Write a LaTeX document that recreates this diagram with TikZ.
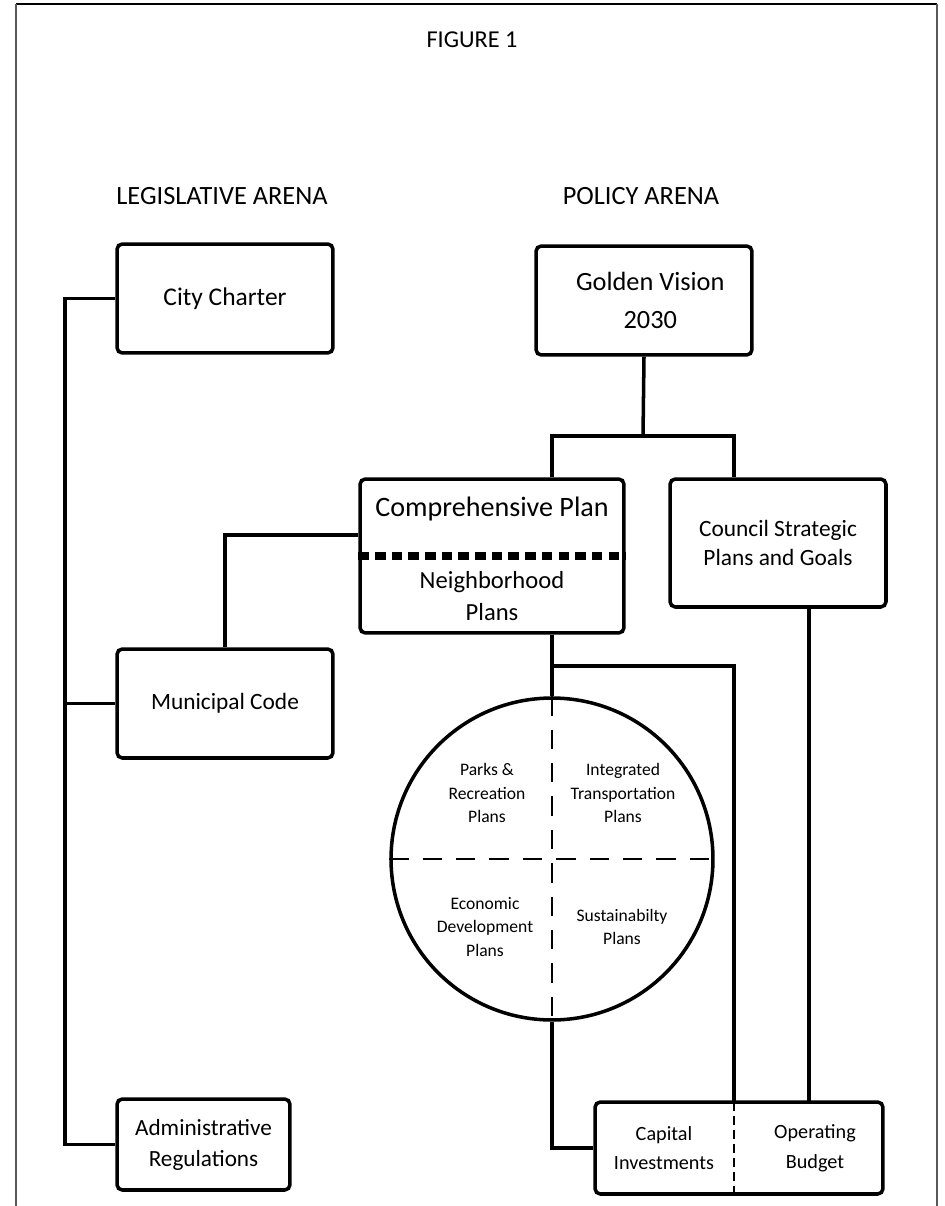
\documentclass[tikz,border=0pt]{standalone}
\usepackage{fontspec}
\setmainfont{Carlito}
\tikzset{
  box/.style={draw, line width=2pt, rounded corners=3pt, align=center, inner sep=0pt},
  link/.style={line width=2pt},
  quarter/.style={align=center, font=\fontsize{10}{13.6}\selectfont},
  split/.style={line width=1.4pt, dash pattern=on 11pt off 8pt}
}
\begin{document}
\begin{tikzpicture}[x=0.02cm, y=-0.02cm]
\useasboundingbox (0,0) rectangle (944,1206);
\draw[line width=1.4pt] (16,4) -- (937,4);
\draw[black!65, line width=1.6pt] (16,4) -- (16,1206);
\draw[black!65, line width=1.6pt] (937,4) -- (937,1206);
\node (title) at (472,40) {\fontsize{13.8}{16}\selectfont FIGURE 1};
\node (legis) at (222,196) {\fontsize{15}{18}\selectfont LEGISLATIVE ARENA};
\node (policy) at (641,196) {\fontsize{15}{18}\selectfont POLICY ARENA};
%% legislative side
\node[box, minimum width=4.32cm, minimum height=2.18cm, font=\fontsize{14.5}{18}\selectfont] (charter) at (225,298.5) {City Charter};
\node[box, minimum width=4.32cm, minimum height=2.18cm, font=\fontsize{13.3}{17}\selectfont] (code) at (225,703.5) {Municipal Code};
\node[box, minimum width=3.46cm, minimum height=1.82cm, font=\fontsize{13.2}{17.6}\selectfont] (admin) at (203.5,1144.5) {Administrative\\Regulations};
\coordinate (spine) at (65,0);
\draw[link] (charter.west) -- (charter.west -| spine) -- (admin.west -| spine) -- (admin.west);
\draw[link] (code.west) -- (code.west -| spine);
%% policy side
\node[box, minimum width=4.32cm, minimum height=2.18cm, font=\fontsize{15}{22}\selectfont] (vision) at (644,300.5) {\hspace{0.25cm}Golden Vision\\\hspace{0.25cm}2030};
\node[box, minimum width=5.28cm, minimum height=3.08cm] (comp) at (492,556) {};
\node[font=\fontsize{16}{19}\selectfont] (comptitle) at (492,509) {Comprehensive Plan};
\node[align=center, font=\fontsize{14}{18}\selectfont] (nbhd) at (492,596) {Neighborhood\\Plans};
\draw[line width=4pt, dash pattern=on 6pt off 3.5pt] (comp.west) -- (comp.east);
\node[box, minimum width=4.32cm, minimum height=2.56cm, font=\fontsize{13.3}{17}\selectfont] (council) at (778,543) {Council Strategic\\Plans and Goals};
\draw[link] ([yshift=0.42cm]comp.west) -| (code.north);
%% circle of plans
\node[draw, circle, line width=2pt, minimum size=6.44cm, inner sep=0pt] (circ) at (552,859) {};
\draw[split] (circ.north) -- (circ.south);
\draw[split] (circ.west) -- (circ.east);
\node[quarter] (parks) at (487,793) {Parks \&\\Recreation\\Plans};
\node[quarter] (transp) at (623,793) {Integrated\\Transportation\\Plans};
\node[quarter] (econ) at (485,927) {Economic\\Development\\Plans};
\node[quarter] (sustain) at (622,927) {Sustainabilty\\Plans};
%% budget
\node[box, minimum width=5.76cm, minimum height=1.84cm] (budget) at (739,1148) {};
\coordinate (div) at (734,1102);
\coordinate (ob) at (809,1102);
\draw[line width=1.1pt, dash pattern=on 5pt off 3pt] (div) -- (budget.south -| div);
\node[align=center, font=\fontsize{11.5}{17}\selectfont] (capital) at (664,1148) {Capital\\Investments};
\node[align=center, font=\fontsize{11.5}{17}\selectfont] (operating) at (815,1148) {Operating\\Budget};
%% connectors
\coordinate (vj) at (643,436);
\coordinate (cj) at (552,666);
\draw[link] (vision.south) -- (vj);
\draw[link] (comp.north -| circ) -- (circ |- vj) -- (vj -| div) -- (council.north -| div);
\draw[link] (comp.south -| circ) -- (circ.north);
\draw[link] (cj) -- (cj -| div) -- (div);
\draw[link] (council.south -| ob) -- (ob);
\draw[link] (circ.south) |- (budget.west);
\end{tikzpicture}
\end{document}
